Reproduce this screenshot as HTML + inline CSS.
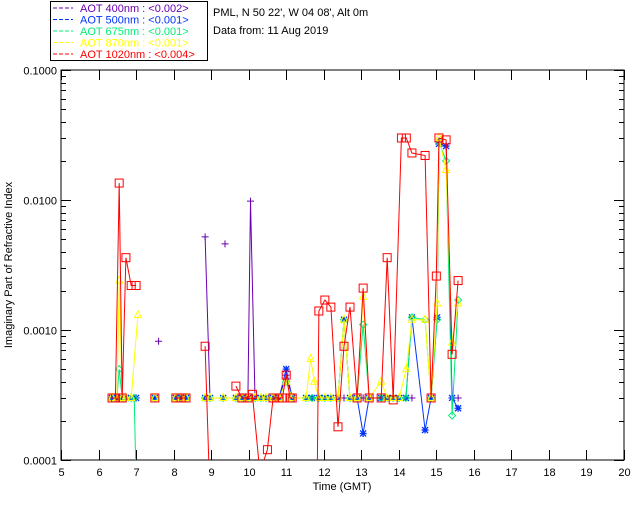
<!DOCTYPE html>
<html><head><meta charset="utf-8"><style>
body{margin:0;background:#fff;width:640px;height:512px;overflow:hidden}
svg{font-family:"Liberation Sans",sans-serif;font-size:11px}
</style></head><body>
<svg id="chart" width="640" height="512" xmlns="http://www.w3.org/2000/svg">
<defs><clipPath id="clip"><rect x="61" y="70" width="563" height="390"/></clipPath></defs>
<g>
<rect x="50.5" y="1.5" width="157" height="59" fill="#fff" stroke="#000"/>
</g>
<text x="213" y="16">PML, N 50 22', W 04 08', Alt 0m</text>
<text x="213" y="34">Data from: 11 Aug 2019</text>
<rect x="61" y="70" width="563" height="390" fill="none" stroke="#000"/>
<g id="axes"></g>
<g id="marks" clip-path="url(#clip)"></g>
<text x="342" y="490" text-anchor="middle">Time (GMT)</text>
<text transform="translate(12,265) rotate(-90)" text-anchor="middle">Imaginary Part of Refractive Index</text>
</svg>
<script>
const xTicks=[5,6,7,8,9,10,11,12,13,14,15,16,17,18,19,20];
const yTicks=[0.0001,0.001,0.01,0.1];
const yTickLabels=["0.0001","0.0010","0.0100","0.1000"];
const legendLabels=["AOT  400nm : <0.002>","AOT  500nm : <0.001>","AOT  675nm : <0.001>","AOT  870nm : <0.001>","AOT 1020nm : <0.004>"];
const colors=["#6a00b0","#0033ff","#00ee77","#ffff00","#ff0000"];
const t400=[6.36,6.49,6.63,6.73,6.87,7.0,7.6,8.06,8.2,8.33,8.84,8.97,9.1,9.37,9.5,9.66,9.82,9.98,10.05,10.17,10.33,10.46,10.65,10.81,11.0,11.16,11.53,11.69,11.87,12.03,12.19,12.38,12.54,12.7,12.89,13.05,13.21,13.53,13.69,13.85,14.01,14.19,14.35,14.86,15.42,15.58];
const v400=[.0003,.0003,.0003,.0003,.0003,.0003,.00082,.0003,.0003,.0003,.0052,.0003,null,.0046,null,.0003,.0003,.0003,.0098,.0003,.0003,.0003,.0003,.0003,.00045,.0003,.0003,.0003,.0003,.0003,.0003,.0003,.0003,.0003,.0003,.0003,.0003,.0003,.0003,.0003,.0003,.0003,.0003,.0003,.0003,.0003];
const t500=[6.36,6.49,6.55,6.63,6.73,6.87,7.0,7.5,8.06,8.2,8.33,8.84,8.97,9.32,9.66,9.82,9.98,10.17,10.33,10.46,10.65,10.81,11.0,11.16,11.53,11.69,11.87,12.03,12.19,12.38,12.54,12.7,12.89,13.05,13.21,13.53,13.69,13.85,14.01,14.19,14.35,14.7,14.86,15.02,15.07,15.26,15.42,15.58];
const v500=[.0003,.0003,.0003,.0003,.0003,.0003,.0003,.0003,.0003,.0003,.0003,.0003,.0003,.0003,.0003,.0003,.0003,.0003,.0003,.0003,.0003,.0003,.0005,.0003,.0003,.0003,.0003,.0003,.0003,.0003,.0012,.0003,.0003,.00016,.0003,.0003,.0003,.0003,.0003,.0003,.00125,.00017,.0003,.00125,.027,.026,.0003,.00025];
const t675=[6.36,6.49,6.55,6.63,6.73,6.87,6.95,7.0,7.5,8.06,8.2,8.33,8.84,8.97,9.32,9.66,9.82,9.98,10.17,10.33,10.46,10.65,10.81,11.0,11.16,11.53,11.69,11.87,12.03,12.19,12.38,12.54,12.7,12.89,13.05,13.21,13.53,13.69,13.85,14.01,14.19,14.35,14.7,14.86,15.02,15.07,15.26,15.42,15.58];
const v675=[.0003,.0003,.0005,.0003,.0003,.0003,.0003,.00007,.0003,.0003,.0003,.0003,.0003,.0003,.0003,.0003,.0003,.0003,.0003,.0003,.0003,.0003,.0003,.0004,.0003,.0003,.0003,.0003,.0003,.0003,.0003,.0012,.0003,.0003,.0011,.0003,.0003,.0003,.0003,.0003,.0003,.00125,.0012,.0003,.0012,.028,.02,.00022,.0017];
const t870=[6.36,6.49,6.55,6.63,6.73,6.87,7.05,7.5,8.06,8.2,8.33,8.84,8.97,9.32,9.66,9.82,9.98,10.17,10.33,10.46,10.65,10.81,11.0,11.16,11.53,11.65,11.75,11.87,12.03,12.19,12.38,12.54,12.7,12.89,13.05,13.21,13.53,13.69,13.85,14.01,14.2,14.35,14.7,14.86,15.02,15.07,15.26,15.42,15.58];
const v870=[.0003,.0003,.0024,.0003,.0003,.0003,.0013,.0003,.0003,.0003,.0003,.0003,.0003,.0003,.0003,.0003,.0003,.0003,.0003,.0003,.0003,.0003,.0004,.0003,.0003,.0006,.0004,.0003,.0003,.0003,.0003,.0012,.0003,.0003,.0018,.0003,.0004,.0003,.0003,.0003,.0005,.0012,.0012,.0003,.0016,.03,.017,.0008,.0016];
const t1020=[6.36,6.45,6.55,6.63,6.73,6.87,7.0,7.5,8.06,8.2,8.33,8.84,8.97,9.66,9.82,9.98,10.1,10.3,10.5,10.65,10.81,10.9,11.0,11.1,11.16,11.82,11.87,12.03,12.19,12.38,12.54,12.7,12.89,13.05,13.21,13.53,13.69,13.85,14.07,14.2,14.35,14.7,14.86,15.0,15.07,15.26,15.42,15.58];
const v1020=[.0003,.0003,.0135,.0003,.0036,.0022,.0022,.0003,.0003,.0003,.0003,.00075,.00005,.00037,.0003,.0003,.00032,.00008,.00012,.0003,.0003,.0003,.00045,.0003,.0003,.00005,.0014,.0017,.0015,.00018,.00075,.0015,.0003,.0021,.0003,.0003,.0036,.00029,.030,.030,.023,.022,.0003,.0026,.030,.029,.00065,.0024];

const NS="http://www.w3.org/2000/svg";
const X0=61,X1=624,Y0=70,Y1=460;
function xs(t){return X0+(t-5)/(20-5)*(X1-X0);}
function ys(v){return Y0+(-1-Math.log10(v))/3*(Y1-Y0);}
function mk(tag,attrs,parent){const e=document.createElementNS(NS,tag);for(const k in attrs)e.setAttribute(k,attrs[k]);parent.appendChild(e);return e;}
const axes=document.getElementById('axes'),marks=document.getElementById('marks'),svg=document.getElementById('chart');
xTicks.forEach(t=>{const x=Math.round(xs(t))+0.5;
 const a=mk('line',{x1:x,x2:x,y1:Y1,y2:Y1-10,stroke:'#000'},axes);
 
 
 const b=mk('line',{x1:x,x2:x,y1:Y0,y2:Y0+10,stroke:'#000'},axes);
 
 
 const l=mk('text',{x:x,y:Y1+16,'text-anchor':'middle'},axes);l.textContent=t;
 
 
});
yTicks.forEach((v,i)=>{const y=Math.round(ys(v))+0.5;
 const a=mk('line',{x1:X0,x2:X0+10,y1:y,y2:y,stroke:'#000'},axes);
 
 
 const b=mk('line',{x1:X1,x2:X1-10,y1:y,y2:y,stroke:'#000'},axes);
 
 
 const l=mk('text',{x:X0-4,y:y+4,'text-anchor':'end'},axes);l.textContent=yTickLabels[i];
 
 
 if(i<yTicks.length-1){for(let m=2;m<=9;m++){const yy=Math.round(ys(v*m))+0.5;
  const c=mk('line',{x1:X0,x2:X0+5,y1:yy,y2:yy,stroke:'#000'},axes);
  
  
  const d=mk('line',{x1:X1,x2:X1-5,y1:yy,y2:yy,stroke:'#000'},axes);
  
  }}
});
legendLabels.forEach((s,i)=>{const y=8+i*11.5;
 const ln=mk('line',{x1:53,x2:73,y1:y,y2:y,stroke:colors[i],'stroke-dasharray':'4,2'},svg);
 
 
 const tx=mk('text',{x:80,y:y+4,fill:colors[i],'xml:space':'preserve','font-size':'11'},svg);tx.textContent=s;
 
 
});
function marker(kind,x,y,c,g){const s=3.5;
 if(kind==='plus'){mk('path',{d:`M${x-s} ${y}H${x+s}M${x} ${y-s}V${y+s}`,stroke:c,fill:'none'},g);}
 else if(kind==='star'){mk('path',{d:`M${x-s} ${y}H${x+s}M${x} ${y-s}V${y+s}M${x-3} ${y-3}L${x+3} ${y+3}M${x-3} ${y+3}L${x+3} ${y-3}`,stroke:c,fill:'none','stroke-width':1.3},g);}
 else if(kind==='diamond'){mk('path',{d:`M${x} ${y-s}L${x+s} ${y}L${x} ${y+s}L${x-s} ${y}Z`,stroke:c,fill:'none'},g);}
 else if(kind==='tri'){mk('path',{d:`M${x} ${y-s-1}L${x+s} ${y+s-1}L${x-s} ${y+s-1}Z`,stroke:c,fill:'none'},g);}
 else {mk('rect',{x:x-4,y:y-4,width:8,height:8,stroke:c,fill:'none'},g);}
}
const series=[[t400,v400,'plus','aot-400nm'],[t500,v500,'star','aot-500nm'],[t675,v675,'diamond','aot-675nm'],[t870,v870,'tri','aot-870nm'],[t1020,v1020,'square','aot-1020nm']];
series.forEach(([T,V,kind,name],si)=>{
 const g=mk('g',{},marks);
 
 
 let d='',prev=null;
 for(let i=0;i<T.length;i++){
  if(V[i]==null){prev=null;continue;}
  const x=xs(T[i]),y=ys(V[i]);
  d+=(prev===null||T[i]-prev>0.45?'M':'L')+x.toFixed(1)+' '+y.toFixed(1);
  prev=T[i];}
 const p=mk('path',{d:d,stroke:colors[si],fill:'none','stroke-width':1},g);
 
 
 for(let i=0;i<T.length;i++){if(V[i]==null)continue;const y=ys(V[i]);if(y>Y1)continue;marker(kind,xs(T[i]),y,colors[si],g);}
});
</script>
</body></html>
